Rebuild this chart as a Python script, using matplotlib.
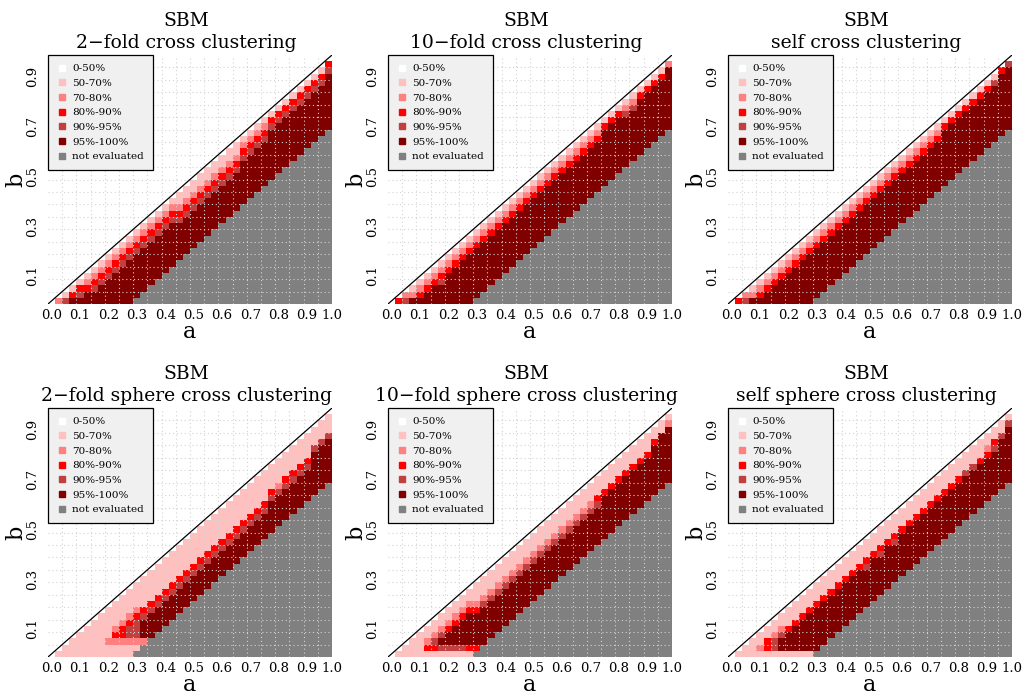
import numpy as np
import matplotlib
matplotlib.use("Agg")
import matplotlib.pyplot as plt
from matplotlib.colors import ListedColormap, BoundaryNorm
from matplotlib.lines import Line2D

plt.rcParams['font.family'] = ['DejaVu Serif']

# ---------------- data ----------------
categories = ["0-50%", "50-70%", "70-80%", "80%-90%", "90%-95%", "95%-100%", "not evaluated"]
cat_colors = ["#FFFFFF", "#FFC0C0", "#FF8080", "#FF0000", "#C04040", "#800000", "#808080"]

a_values = [round(0.025 * k, 3) for k in range(40)]   # cell centres (a)
b_values = [round(0.025 * k, 3) for k in range(40)]   # cell centres (b)
x_tick_labels = ["0.0", "0.1", "0.2", "0.3", "0.4", "0.5", "0.6", "0.7", "0.8", "0.9", "1.0"]
y_tick_values = [0.1, 0.3, 0.5, 0.7, 0.9]

titles = ["SBM\n2\u2212fold cross clustering",
          "SBM\n10\u2212fold cross clustering",
          "SBM\nself cross clustering",
          "SBM\n2\u2212fold sphere cross clustering",
          "SBM\n10\u2212fold sphere cross clustering",
          "SBM\nself sphere cross clustering"]

# Each list: one string per column a_values[1..39]; the characters give the accuracy
# class (0..5 = index into categories) for b = a-0.025, a-0.05, ... (max 11 cells,
# everything further below the diagonal is "not evaluated").
cv2 = ["2", "14", "135", "1345", "12355", "123455", "1234555", "12345555",
       "123455555", "1234555555", "12345555555", "12345555555", "12345555555",
       "12345555555", "12345555555", "12345555555", "12345555555", "11234555555",
       "11234555555", "11234555555", "11234555555", "11234555555", "11234555555",
       "11234555555", "11234555555", "11234555555", "12345555555", "12345555555",
       "12345555555", "12345555555", "13455555555", "13455555555", "13455555555",
       "13455555555", "13455555555", "13455555555", "13455555555", "13455555555",
       "34555555555"]
cv10 = ["3", "24", "125", "1235", "12355", "123555", "1234555", "12355555",
        "123555555", "1235555555", "12355555555", "12355555555", "12355555555",
        "12355555555", "12355555555", "12355555555", "12355555555", "12355555555",
        "12355555555", "12355555555", "12355555555", "12355555555", "12355555555",
        "12355555555", "12355555555", "12355555555", "12355555555", "12355555555",
        "12355555555", "13555555555", "13555555555", "13555555555", "12455555555",
        "12455555555", "13555555555", "13555555555", "13555555555", "13555555555",
        "25555555555"]
self_cv = ["3", "24", "125", "1235", "12355", "123555", "1235555", "12355555",
           "123555555", "1235555555", "12355555555", "12355555555", "12355555555",
           "12355555555", "12355555555", "12355555555", "12355555555", "12355555555",
           "12355555555", "12355555555", "12355555555", "12355555555", "12355555555",
           "12355555555", "12355555555", "12355555555", "12355555555", "12355555555",
           "12355555555", "13555555555", "13555555555", "13555555555", "13555555555",
           "13555555555", "13555555555", "13555555555", "14555555555", "35555555555",
           "45555555555"]
sph_cv2 = ["1", "11", "111", "1111", "11111", "111111", "1111111", "11111211",
           "111123211", "1111233211", "11112344211", "11112344421", "11111345552",
           "11111345555", "11111345555", "11111345555", "11111345555", "11111345555",
           "11111345555", "11111345555", "11111345555", "11111345555", "11111345555",
           "11111345555", "11111345555", "11111345555", "11111345555", "11111345555",
           "11111345555", "11111345555", "11113455555", "11112455555", "11113455555",
           "11113455555", "11113455555", "11113455555", "11145555555", "11145555555",
           "11145555555"]
sph_cv10 = ["1", "11", "111", "1111", "11231", "112431", "1124541", "11235541",
            "112355541", "1123555541", "11235555531", "11123555553", "11124555555",
            "11124555555", "11124555555", "11124555555", "11124555555", "11124555555",
            "11124555555", "11124555555", "11124555555", "11124555555", "11124555555",
            "11124555555", "11124555555", "11124555555", "11124555555", "11124555555",
            "11134555555", "11135555555", "11135555555", "11135555555", "11135555555",
            "11135555555", "11135555555", "11135555555", "11355555555", "11555555555",
            "12555555555"]
sph_self = ["1", "11", "111", "1121", "11331", "112441", "1124551", "11135551",
            "111355551", "1113555551", "11135555551", "11135555555", "11135555555",
            "11135555555", "11135555555", "11135555555", "11135555555", "11135555555",
            "11134555555", "11135555555", "11134555555", "11135555555", "11134555555",
            "11135555555", "11135555555", "11135555555", "11135555555", "11135555555",
            "11135555555", "11135555555", "11135555555", "11135555555", "11145555555",
            "11145555555", "11135555555", "11235555555", "11345555555", "11455555555",
            "14555555555"]
panels = [cv2, cv10, self_cv, sph_cv2, sph_cv10, sph_self]


def build_matrix(cols):
    n = len(a_values)
    z = np.full((n, n), np.nan)
    for i in range(1, n):
        s = cols[i - 1]
        for j in range(i):
            d = i - j
            z[j, i] = int(s[d - 1]) if d <= len(s) else 6
    return z


cmap = ListedColormap(cat_colors)
norm = BoundaryNorm(np.arange(-0.5, 7.5, 1), cmap.N)

W, H = 1022, 694
fig = plt.figure(figsize=(W / 100, H / 100), dpi=100)

lefts = [48, 388, 728]
tops = [55, 408]
aw, ah = 284, 249

half = 0.0125
x_edges = np.array(a_values + [a_values[-1] + 0.025]) - half
y_edges = np.array(b_values + [b_values[-1] + 0.025]) - half
lo, hi = x_edges[0], x_edges[-1]
grid_pos = x_edges[2:-1:2]

for p in range(6):
    r, c = divmod(p, 3)
    ax = fig.add_axes([lefts[c] / W, (H - tops[r] - ah) / H, aw / W, ah / H])
    z = build_matrix(panels[p])
    ax.pcolormesh(x_edges, y_edges, z, cmap=cmap, norm=norm, shading='flat', zorder=1)
    for g in grid_pos:
        ax.axvline(g, color='#D3D3D3', lw=0.8, ls=(0, (1, 2.5)), zorder=2)
        ax.axhline(g, color='#D3D3D3', lw=0.8, ls=(0, (1, 2.5)), zorder=2)
    ax.plot([lo, hi], [lo, hi], color='black', lw=0.9, zorder=3, solid_capstyle='butt')
    ax.set_xlim(lo, hi)
    ax.set_ylim(lo, hi)
    for s in ax.spines.values():
        s.set_visible(False)
    xt = [float(t) for t in x_tick_labels]
    xt[-1] = 0.986
    ax.set_xticks(xt)
    ax.set_xticklabels(x_tick_labels, fontsize=9.5)
    ax.set_yticks(y_tick_values)
    ax.set_yticklabels([f"{v:.1f}" for v in y_tick_values], fontsize=9.5,
                       rotation=90, va='center')
    ax.tick_params(axis='x', length=0, pad=3.5)
    ax.tick_params(axis='y', length=0, pad=6.5)
    ax.text(0.5, -0.1365, "a", transform=ax.transAxes, ha='center', va='baseline',
            fontsize=16)
    ax.text(-0.113, 0.5, "b", transform=ax.transAxes, ha='center', va='center',
            rotation=90, fontsize=16)
    l1, l2 = titles[p].split("\n")
    ax.text(0.486, 1.118, l1, transform=ax.transAxes, ha='center', va='baseline',
            fontsize=13.5)
    ax.text(0.486, 1.030, l2, transform=ax.transAxes, ha='center', va='baseline',
            fontsize=13.5)
    handles = [Line2D([], [], ls='', marker='s', markersize=4.3,
                      markerfacecolor=col, markeredgecolor=col) for col in cat_colors]
    leg = ax.legend(handles, categories, loc='upper left', bbox_to_anchor=(0, 1),
                    borderaxespad=0, fontsize=7.5, frameon=True, fancybox=False,
                    facecolor='#F0F0F0', edgecolor='black', framealpha=1,
                    handlelength=0.9, handletextpad=0.6, borderpad=0.85,
                    labelspacing=0.52)
    leg.get_frame().set_linewidth(0.9)
    leg.set_zorder(5)

fig.savefig("out.png", dpi=100)
